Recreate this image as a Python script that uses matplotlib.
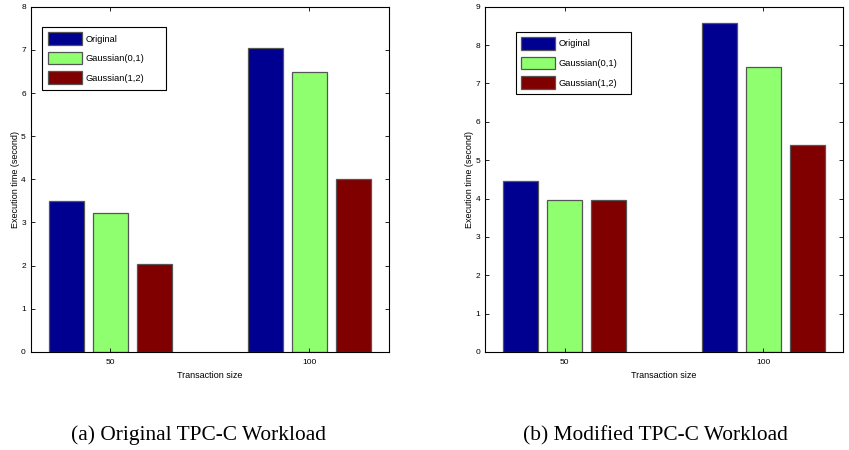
import numpy as np
import matplotlib
matplotlib.use('Agg')
from matplotlib import pyplot as plt

# data
sizes = ['50', '100']
series = ['Original', 'Gaussian(0,1)', 'Gaussian(1,2)']
orig_tpcc = [[3.49, 7.04], [3.23, 6.48], [2.03, 4.01]]
mod_tpcc = [[4.46, 8.57], [3.97, 7.42], [3.96, 5.40]]
colors = ['#000090', '#8fff70', '#800000']

plt.rcParams['font.family'] = ['Liberation Sans', 'DejaVu Sans']

fig = plt.figure(figsize=(8.49, 4.5), dpi=100)

def panel(rect, values, ymax, leg_box, caption, cap_x):
    ax = fig.add_axes(rect)
    x = np.arange(1, len(sizes) + 1)
    w = 0.176
    for i, (vals, c) in enumerate(zip(values, colors)):
        ax.bar(x + (i - 1) * 0.222, vals, w, color=c, edgecolor='#555555',
               linewidth=0.9, label=series[i])
    ax.set_xlim(0.6, 2.4)
    ax.set_ylim(0, ymax)
    ax.set_xticks(x)
    ax.set_xticklabels(sizes)
    ax.set_yticks(range(ymax + 1))
    ax.tick_params(direction='in', length=3, width=0.6, labelsize=6,
                   top=True, right=True)
    ax.tick_params(axis='x', pad=5)
    for s in ax.spines.values():
        s.set_linewidth(0.8)
    ax.set_xlabel('Transaction size', fontsize=6.5, labelpad=4)
    ax.set_ylabel('Execution time (second)', fontsize=6.5, labelpad=1)
    # MATLAB style legend: wide box, big swatches
    leg = ax.legend(loc='upper left', bbox_to_anchor=leg_box, mode='expand',
                    fontsize=6.7, handlelength=3.65, handleheight=1.7,
                    labelspacing=0.75, handletextpad=0.37, borderpad=0.6,
                    borderaxespad=0, fancybox=False, framealpha=1,
                    edgecolor='black')
    leg.get_frame().set_linewidth(0.8)
    fig.text(cap_x, 0.022, caption, ha='center', va='baseline',
             fontsize=15.4, family=['Liberation Serif', 'DejaVu Serif'])
    return ax

panel([0.0362, 0.218, 0.4218, 0.767], orig_tpcc, 8, (0.032, 0.942, 0.346, 0.0),
      '(a) Original TPC-C Workload', 0.234)
panel([0.5713, 0.218, 0.4217, 0.767], mod_tpcc, 9, (0.086, 0.928, 0.321, 0.0),
      '(b) Modified TPC-C Workload', 0.7715)

fig.savefig('out.png', dpi=100)
